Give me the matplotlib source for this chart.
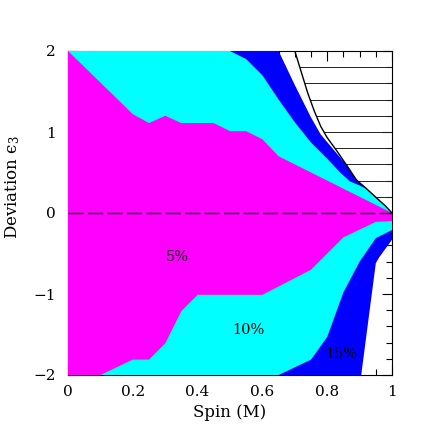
import numpy as np
import matplotlib
matplotlib.use('Agg')
import matplotlib.pyplot as plt
from matplotlib.ticker import MultipleLocator, FuncFormatter

plt.rcParams['font.family'] = 'DejaVu Serif'
plt.rcParams['mathtext.fontset'] = 'dejavuserif'

# 5% region (magenta)
m_up_x = [0.0, 0.2, 0.25, 0.3, 0.35, 0.45, 0.5, 0.55, 0.6, 0.65, 1.0]
m_up_y = [2.0, 1.22, 1.11, 1.2, 1.11, 1.11, 1.01, 1.01, 0.91, 0.7, 0.0]
m_lo_x = [0.0, 0.1, 0.2, 0.25, 0.3, 0.35, 0.4, 0.6, 0.75, 0.85, 0.95, 1.0]
m_lo_y = [-2.0, -2.0, -1.81, -1.81, -1.61, -1.21, -1.01, -1.01, -0.7, -0.3, -0.11, -0.1]

# 10% region (cyan)
c_up_x = [0.0, 0.5, 0.55, 0.6, 0.65, 0.7, 0.75, 0.8, 0.84, 0.87, 0.9, 0.92, 0.95, 0.98, 1.0]
c_up_y = [2.0, 2.0, 1.9, 1.7, 1.4, 1.12, 0.87, 0.67, 0.5, 0.39, 0.34, 0.30, 0.19, 0.085, 0.0]
c_lo_x = [0.0, 0.65, 0.75, 0.8, 0.85, 0.9, 0.95, 1.0]
c_lo_y = [-2.0, -2.0, -1.81, -1.53, -0.98, -0.6, -0.31, -0.21]

# 15% region (blue)
b_up_x = [0.0, 0.65, 0.7, 0.75, 0.78, 0.82, 0.86, 0.89, 0.92, 0.95, 0.98, 1.0]
b_up_y = [2.0, 2.0, 1.58, 1.18, 0.97, 0.78, 0.59, 0.41, 0.30, 0.19, 0.085, 0.0]
b_lo_x = [0.0, 0.905, 0.95, 0.96, 1.0]
b_lo_y = [-2.0, -2.0, -0.62, -0.55, -0.33]

# boundary of excluded (hatched) region
spin_bound = [0.70, 0.72, 0.74, 0.76, 0.78, 0.80, 0.83, 0.86, 0.89, 0.92, 0.95, 0.98, 1.00]
eps_bound = [2.00, 1.74, 1.48, 1.26, 1.07, 0.93, 0.765, 0.59, 0.41, 0.305, 0.195, 0.086, 0.00]

labels = ['5%', '10%', '15%']
label_x = [0.336, 0.556, 0.845]
label_y = [-0.54, -1.44, -1.74]


def region(ux, uy, lx, ly):
  return list(ux) + list(lx[::-1]), list(uy) + list(ly[::-1])


fig = plt.figure(figsize=(4.43, 4.43), dpi=100)
ax = fig.add_axes([68 / 443, 68 / 443, 324 / 443, 324 / 443])

for (ux, uy, lx, ly), col in zip(
    [(b_up_x, b_up_y, b_lo_x, b_lo_y),
     (c_up_x, c_up_y, c_lo_x, c_lo_y),
     (m_up_x, m_up_y, m_lo_x, m_lo_y)],
    ['#0000ff', '#00ffff', '#ff00ff']):
  px, py = region(ux, uy, lx, ly)
  ax.fill(px, py, color=col, lw=0, zorder=3)

# hatched region: horizontal lines from the boundary to spin = 1
for lev in np.arange(0.2, 1.9, 0.2):
  xs = np.interp(lev, eps_bound[::-1], spin_bound[::-1])
  ax.plot([xs, 1.0], [lev, lev], color='#222222', lw=0.7, zorder=4)
ax.plot(spin_bound, eps_bound, color='black', lw=1.0, zorder=4)

ax.plot([0, 1], [0, 0], color='black', lw=1.0, dashes=(11, 3), zorder=4)

for t, x, y in zip(labels, label_x, label_y):
  ax.text(x, y, t, fontsize=10.5, ha='center', va='center', zorder=5)

ax.set_xlim(0, 1)
ax.set_ylim(-2, 2)
ax.xaxis.set_major_locator(MultipleLocator(0.2))
ax.xaxis.set_minor_locator(MultipleLocator(0.05))
ax.yaxis.set_major_locator(MultipleLocator(1))
ax.yaxis.set_minor_locator(MultipleLocator(0.2))
fmt = FuncFormatter(lambda v, p: f'{v:g}'.replace('-', '\u2212'))
ax.xaxis.set_major_formatter(fmt)
ax.yaxis.set_major_formatter(fmt)
ax.tick_params(which='both', direction='in', top=True, right=True, labelsize=11)
ax.tick_params(which='major', length=7.5, width=0.8)
ax.tick_params(which='minor', length=4, width=0.8)
ax.tick_params(axis='x', pad=7)
ax.tick_params(axis='y', pad=9)

ax.set_xlabel('Spin (M)', fontsize=12, labelpad=4)
ax.set_ylabel('Deviation \u03f5$_3$', fontsize=12)
ax.yaxis.set_label_coords(-0.142, 0.579)

plt.savefig('out.png', dpi=100)
